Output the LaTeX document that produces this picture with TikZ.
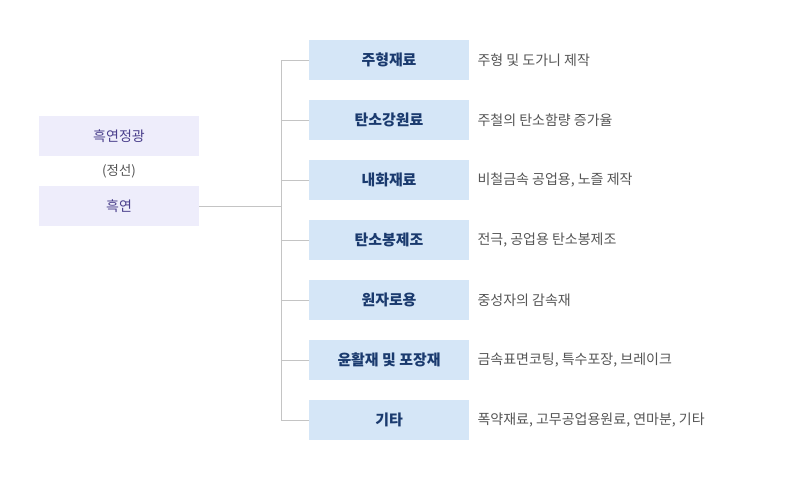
\documentclass[tikz,border=0pt]{standalone}
\usepackage{fontspec}
\setmainfont{Noto Sans CJK KR}
\usepackage{xcolor}
\usetikzlibrary{positioning}
\definecolor{srcfill}{HTML}{EEEDFB}
\definecolor{srctext}{HTML}{4A3F8C}
\definecolor{usefill}{HTML}{D5E6F7}
\definecolor{usetext}{HTML}{1A3A6E}
\definecolor{desctext}{HTML}{555555}
\definecolor{linegray}{HTML}{C4C4C4}

\begin{document}
\begin{tikzpicture}[x=0.75pt,y=-0.75pt,
              srcbox/.style={fill=srcfill, text=srctext, minimum width=120pt, minimum height=30pt, inner sep=0pt, font=\fontsize{10.5}{12}\selectfont},
              usebox/.style={fill=usefill, text=usetext, minimum width=120pt, minimum height=30pt, inner sep=0pt, font=\bfseries\fontsize{11.2}{12}\selectfont},
              desc/.style={text=desctext, anchor=west, inner sep=0pt, font=\fontsize{10.5}{12}\selectfont},
              branch/.style={linegray, line width=0.75pt},
             ]
\useasboundingbox (0,0) rectangle (788,480);
% left side
\node[srcbox] (conc) at (119,136) {흑연정광};
\node[text=desctext, font=\fontsize{10}{12}\selectfont] (proc) at (119,171) {(정선)};
\node[srcbox] (graph) at (119,206) {흑연};
% right side
\node[usebox] (use1) at (389,60) {주형재료};
\node[usebox] (use2) at (389,120) {탄소강원료};
\node[usebox] (use3) at (389,180) {내화재료};
\node[usebox] (use4) at (389,240) {탄소봉제조};
\node[usebox] (use5) at (389,300) {원자로용};
\node[usebox] (use6) at (389,360) {윤활재 및 포장재};
\node[usebox] (use7) at (389,420) {기타};
\node[desc, right=6pt of use1] (txt1) {주형 및 도가니 제작};
\node[desc, right=6pt of use2] (txt2) {주철의 탄소함량 증가율};
\node[desc, right=6pt of use3] (txt3) {비철금속 공업용, 노즐 제작};
\node[desc, right=6pt of use4] (txt4) {전극, 공업용 탄소봉제조};
\node[desc, right=6pt of use5] (txt5) {중성자의 감속재};
\node[desc, right=6pt of use6] (txt6) {금속표면코팅, 특수포장, 브레이크};
\node[desc, right=6pt of use7] (txt7) {폭약재료, 고무공업용원료, 연마분, 기타};
% tree lines
\coordinate (trunk) at (281,206);
\draw[branch] (graph.east) -- (trunk);
\draw[branch] (trunk |- use1.west) -- (trunk |- use7.west);
\foreach \i in {1,...,7}
  \draw[branch] (trunk |- use\i.west) -- (use\i.west);
\end{tikzpicture}
\end{document}
